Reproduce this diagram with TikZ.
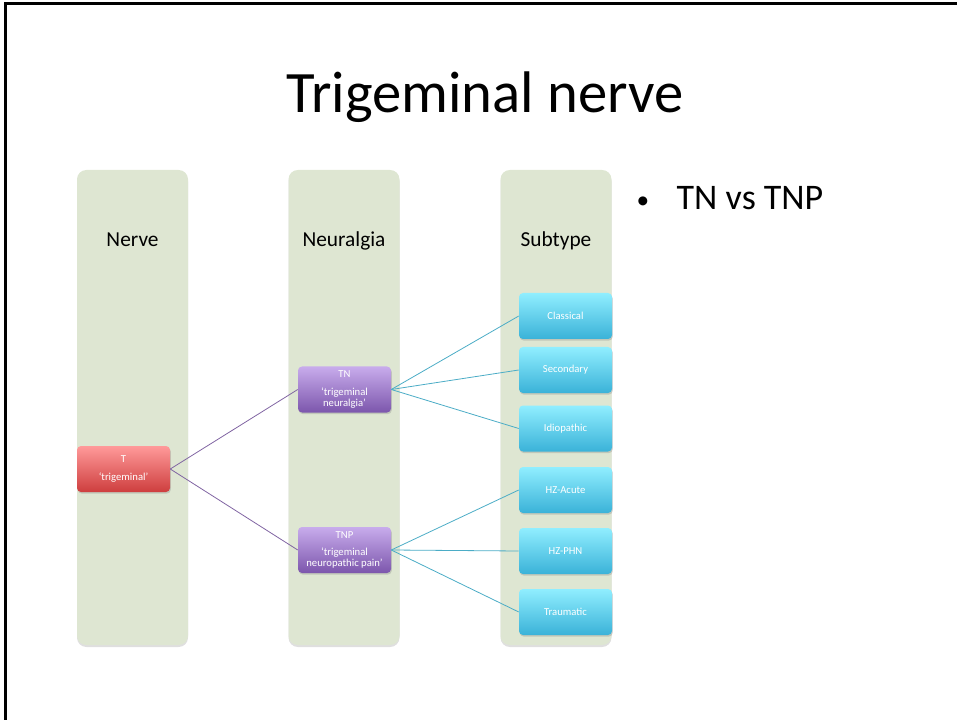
\documentclass[tikz,border=0pt]{standalone}
\usepackage{fontspec}
\setmainfont{Carlito}
\usepackage{tikz}
\usetikzlibrary{shadows}

\definecolor{colgreen}{RGB}{222,230,210}
\definecolor{redtop}{RGB}{255,154,154}
\definecolor{redbot}{RGB}{206,62,62}
\definecolor{purptop}{RGB}{200,172,236}
\definecolor{purpbot}{RGB}{124,86,172}
\definecolor{cyantop}{RGB}{144,238,255}
\definecolor{cyanbot}{RGB}{58,178,216}
\definecolor{purpline}{RGB}{128,100,162}
\definecolor{cyanline}{RGB}{75,172,198}

\begin{document}
\begin{tikzpicture}[
  x=0.75pt, y=-0.75pt,
  column/.style={fill=colgreen, rounded corners=7pt, minimum width=83.25pt,
    minimum height=356.25pt, inner sep=0pt,
    drop shadow={shadow xshift=0pt, shadow yshift=-1.5pt, opacity=.25}},
  collabel/.style={font=\fontsize{16}{19}\selectfont, anchor=base},
  box/.style={rounded corners=3pt, minimum width=69.75pt, minimum height=34.5pt,
    inner sep=1pt, align=center, text=white, font=\fontsize{8}{8.25}\selectfont,
    drop shadow={shadow xshift=0.6pt, shadow yshift=-1.2pt, opacity=.3}},
  redbox/.style={box, top color=redtop, bottom color=redbot},
  purpbox/.style={box, top color=purptop, bottom color=purpbot},
  cyanbox/.style={box, top color=cyantop, bottom color=cyanbot},
  purplink/.style={draw=purpline, line width=0.6pt},
  cyanlink/.style={draw=cyanline, line width=0.6pt}
]

\useasboundingbox (0,0) rectangle (957,720);

% --- slide frame ---
\draw[line width=2.25pt] (5.5,720) -- (5.5,3.5) -- (957,3.5);

% --- title and bullet ---
\node[font=\fontsize{44}{52}\selectfont, anchor=base] (title) at (485,113) {Trigeminal nerve};
\node[font=\fontsize{19}{22}\selectfont, anchor=base] (bullet) at (643,209) {•};
\node[font=\fontsize{27}{32}\selectfont, anchor=base west] (tnvs) at (672,210) {TN vs TNP};

% --- columns ---
\foreach \name/\x/\txt in {nerve/132.5/Nerve, neur/344/Neuralgia, sub/556/Subtype} {
  \node[column] (col\name) at (\x,407.5) {};
  \node[collabel] (lab\name) at (\x,247) {\txt};
}

% --- boxes ---
\node[redbox] (t) at (123.5,469) {T\\[5pt]‘trigeminal’};
\node[purpbox] (tn) at (344.5,389.5) {TN\\[5pt]‘trigeminal\\neuralgia’};
\node[purpbox] (tnp) at (344.5,550) {TNP\\[5pt]‘trigeminal\\neuropathic pain’};

\foreach \name/\y/\txt in {cl/316/Classical, sec/370/Secondary, idio/428.5/Idiopathic,
                          hza/490/HZ-Acute, hzp/551/HZ-PHN, trau/612/Traumatic} {
  \node[cyanbox] (\name) at (565.5,\y) {\txt};
}

% --- connectors ---
\draw[purplink] (t.east) -- (tn.west);
\draw[purplink] (t.east) -- (tnp.west);
\foreach \s in {cl,sec,idio} \draw[cyanlink] (tn.east) -- (\s.west);
\foreach \s in {hza,hzp,trau} \draw[cyanlink] (tnp.east) -- (\s.west);

\end{tikzpicture}
\end{document}
